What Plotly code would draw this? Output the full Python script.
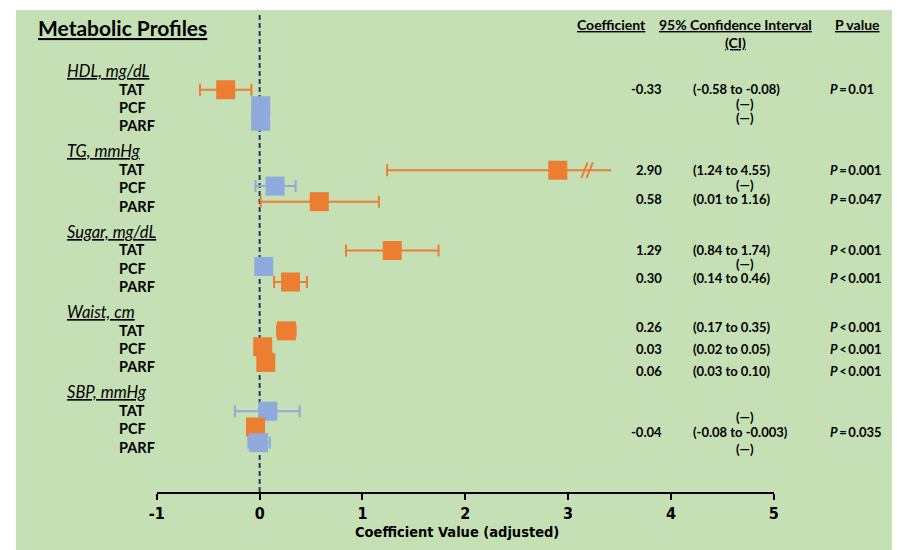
import plotly.graph_objects as go

# ---------------- data ----------------
groups = ["HDL, mg/dL", "TG, mmHg", "Sugar, mg/dL", "Waist, cm", "SBP, mmHg"]
items = ["TAT", "PCF", "PARF"]

# coefficient (point estimate) per group x item (TAT, PCF, PARF)
coef = [
    [-0.33, 0.01, 0.01],
    [2.90, 0.15, 0.58],
    [1.29, 0.04, 0.30],
    [0.26, 0.03, 0.06],
    [0.08, -0.04, -0.01],
]
ci_low = [
    [-0.58, None, None],
    [1.24, -0.04, 0.01],
    [0.84, None, 0.14],
    [0.17, 0.02, 0.03],
    [-0.24, -0.08, -0.11],
]
ci_high = [
    [-0.08, None, None],
    [4.55, 0.35, 1.16],
    [1.74, None, 0.46],
    [0.35, 0.05, 0.10],
    [0.39, -0.003, 0.10],
]
significant = [
    [True, False, False],
    [True, False, True],
    [True, False, True],
    [True, True, True],
    [False, True, False],
]
coef_text = [
    ["-0.33", "", ""],
    ["2.90", "", "0.58"],
    ["1.29", "", "0.30"],
    ["0.26", "0.03", "0.06"],
    ["", "-0.04", ""],
]
ci_text = [
    ["(-0.58 to -0.08)", "(\u2014)", "(\u2014)"],
    ["(1.24 to 4.55)", "(\u2014)", "(0.01 to 1.16)"],
    ["(0.84 to 1.74)", "(\u2014)", "(0.14 to 0.46)"],
    ["(0.17 to 0.35)", "(0.02 to 0.05)", "(0.03 to 0.10)"],
    ["(\u2014)", "(-0.08 to -0.003)", "(\u2014)"],
]
p_text = [
    ["P=0.01", "", ""],
    ["P=0.001", "", "P=0.047"],
    ["P<0.001", "", "P<0.001"],
    ["P<0.001", "P<0.001", "P<0.001"],
    ["", "P=0.035", ""],
]
tick_vals = [-1, 0, 1, 2, 3, 4, 5]
tick_labels = ["-1", "0", "1", "2", "3", "4", "5"]
axis_break_at = 3.42      # displayed end of the truncated TG/TAT interval
break_marks = [3.16, 3.21]

# ---------------- layout constants ----------------
W, H = 897, 550
SLOT_PX = 18.3
HEADER0_PX = 71
AXIS_PX = 492
GROUP_STEP = 4.39
marker_offsets = [1.03, 1.9, 2.75]
label_offsets = [1.0, 2.0, 3.0]
table_offsets = [
    [0.98, 1.80, 2.57],
    [1.02, 1.84, 2.61],
    [1.0, 1.77, 2.53],
    [0.82, 2.02, 3.22],
    [1.35, 2.17, 3.10],
]

ORANGE = "#ED7D31"
BLUE = "#8FAADC"
GREEN = "#C5E0B4"
NAVY = "#1F3864"
FONT = "Lato, Carlito, Calibri, sans-serif"
NARROW = "'Liberation Sans Narrow', 'Arial Narrow', 'DejaVu Sans Condensed', sans-serif"

y_top = -HEADER0_PX / SLOT_PX
y_bot = (AXIS_PX - HEADER0_PX) / SLOT_PX


def px(x):
    return x / W


def py(y):
    return 1 - y / H


fig = go.Figure()
annotations = []

for g, gname in enumerate(groups):
    hslot = g * GROUP_STEP
    annotations.append(dict(
        x=px(58), xref="paper", y=hslot, yref="y", xanchor="left", yanchor="middle",
        text=f"<i><u>{gname}</u></i>", showarrow=False,
        font=dict(family=FONT, size=16.5, color="black")))
    for k, item in enumerate(items):
        annotations.append(dict(
            x=px(111), xref="paper", y=hslot + label_offsets[k], yref="y",
            xanchor="left", yanchor="middle", text=f"<b>{item}</b>", showarrow=False,
            font=dict(family=FONT, size=14.5, color="black")))
        color = ORANGE if significant[g][k] else BLUE
        yv = hslot + marker_offsets[k]
        c = coef[g][k]
        lo, hi = ci_low[g][k], ci_high[g][k]
        err = dict(visible=False)
        if lo is not None:
            if hi > axis_break_at:
                fig.add_trace(go.Scatter(
                    x=[c, axis_break_at], y=[yv, yv], mode="lines",
                    line=dict(color=color, width=2), hoverinfo="skip", showlegend=False))
                fig.add_trace(go.Scatter(
                    x=break_marks, y=[yv] * len(break_marks), mode="markers",
                    marker=dict(symbol="line-ns", size=12, angle=22,
                                line=dict(color=color, width=2)),
                    hoverinfo="skip", showlegend=False))
                err = dict(type="data", symmetric=False, array=[0], arrayminus=[c - lo],
                           color=color, thickness=2, width=6)
            else:
                err = dict(type="data", symmetric=False, array=[hi - c], arrayminus=[c - lo],
                           color=color, thickness=2, width=6)
        fig.add_trace(go.Scatter(
            x=[c], y=[yv], mode="markers",
            marker=dict(symbol="square", size=19, color=color, line=dict(width=0)),
            error_x=err, showlegend=False, name=f"{gname} {item}"))

        ty = hslot + table_offsets[g][k]
        if coef_text[g][k]:
            annotations.append(dict(
                x=px(665), xref="paper", y=ty, yref="y", xanchor="right", yanchor="middle",
                text=f"<b>{coef_text[g][k]}</b>", showarrow=False, borderpad=0,
                font=dict(family=FONT, size=13, color="black")))
        if ci_text[g][k]:
            dash_only = ci_text[g][k] == "(\u2014)"
            annotations.append(dict(
                x=px(748 if dash_only else 694), xref="paper", y=ty, yref="y",
                xanchor="center" if dash_only else "left", yanchor="middle",
                text=f"<b>{ci_text[g][k]}</b>", showarrow=False, borderpad=0,
                font=dict(family=FONT, size=13, color="black")))
        if p_text[g][k]:
            t = p_text[g][k]
            sym = "=" if "=" in t else "&lt;"
            val = t.split("=" if "=" in t else "<")[1]
            annotations.append(dict(
                x=px(833), xref="paper", y=ty, yref="y", xanchor="left", yanchor="middle",
                text=f"<b><i>P</i>\u2009{sym}\u2009{val}</b>", showarrow=False, borderpad=0,
                font=dict(family=FONT, size=13, color="black")))

# headers
annotations += [
    dict(x=px(28), xref="paper", y=py(28), yref="paper", xanchor="left", yanchor="middle",
         text="<b><u>Metabolic Profiles</u></b>", showarrow=False,
         font=dict(family=FONT, size=21, color="black")),
    dict(x=px(612), xref="paper", y=py(24), yref="paper", xanchor="center", yanchor="middle",
         text="<b><u>Coefficient</u></b>", showarrow=False,
         font=dict(family=FONT, size=14, color="black")),
    dict(x=px(738), xref="paper", y=py(24), yref="paper", xanchor="center", yanchor="middle",
         text="<b><u>95% Confidence Interval</u></b>", showarrow=False,
         font=dict(family=FONT, size=14, color="black")),
    dict(x=px(738), xref="paper", y=py(43), yref="paper", xanchor="center", yanchor="middle",
         text="<b><u>(CI)</u></b>", showarrow=False,
         font=dict(family=FONT, size=14, color="black")),
    dict(x=px(862), xref="paper", y=py(24), yref="paper", xanchor="center", yanchor="middle",
         text="<b><u>P value</u></b>", showarrow=False,
         font=dict(family=FONT, size=14, color="black")),
    dict(x=px(456), xref="paper", y=py(532), yref="paper", xanchor="center", yanchor="middle",
         text="<b>Coefficient Value (adjusted)</b>", showarrow=False,
         font=dict(family=NARROW, size=14.5, color="black")),
]

shapes = [
    dict(type="rect", xref="paper", yref="paper", x0=px(8), x1=1, y0=0, y1=py(10),
         fillcolor=GREEN, line=dict(width=0), layer="below"),
    dict(type="line", xref="x", yref="paper", x0=0, x1=0, y0=py(AXIS_PX), y1=py(13),
         line=dict(color=NAVY, width=2, dash="5px,3px"), layer="below"),
]

fig.update_layout(
    width=W, height=H,
    margin=dict(l=0, r=0, t=0, b=0),
    paper_bgcolor="white",
    plot_bgcolor="rgba(0,0,0,0)",
    showlegend=False,
    annotations=annotations,
    shapes=shapes,
    xaxis=dict(
        domain=[px(151), px(777)], range=[-1, 5], tickmode="array",
        tickvals=tick_vals, ticktext=tick_labels,
        showgrid=False, zeroline=False, showline=True, linecolor="black", linewidth=2,
        ticks="outside", ticklen=6, tickwidth=2, tickcolor="black",
        tickfont=dict(family=NARROW, size=16, color="black", weight="bold"),
        anchor="y", fixedrange=True,
    ),
    yaxis=dict(
        domain=[py(AXIS_PX), 1], range=[y_bot, y_top], visible=False,
        showgrid=False, zeroline=False, fixedrange=True,
    ),
)

fig.write_html(
    "out.html",
    config={"responsive": False, "displayModeBar": False},
    post_script="document.body.style.margin='0px';document.documentElement.style.overflow='hidden';",
)
